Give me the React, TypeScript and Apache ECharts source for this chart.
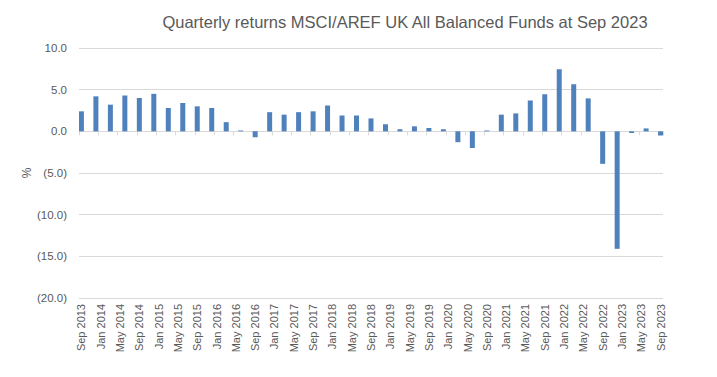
import React, { useEffect, useRef } from "react";
import * as echarts from "echarts";

const TITLE = "Quarterly returns MSCI/AREF UK All Balanced Funds at Sep 2023";
const AXIS_NAME = "%";
const MONTHS = ["Jan", "Feb", "Mar", "Apr", "May", "Jun", "Jul", "Aug", "Sep", "Oct", "Nov", "Dec"];
const START = { month: 8, year: 2013 }; // Sep 2013
const MONTH_COUNT = 121; // Sep 2013 .. Sep 2023

const quarters = [
  "Sep 2013", "Dec 2013", "Mar 2014", "Jun 2014", "Sep 2014", "Dec 2014",
  "Mar 2015", "Jun 2015", "Sep 2015", "Dec 2015", "Mar 2016", "Jun 2016",
  "Sep 2016", "Dec 2016", "Mar 2017", "Jun 2017", "Sep 2017", "Dec 2017",
  "Mar 2018", "Jun 2018", "Sep 2018", "Dec 2018", "Mar 2019", "Jun 2019",
  "Sep 2019", "Dec 2019", "Mar 2020", "Jun 2020", "Sep 2020", "Dec 2020",
  "Mar 2021", "Jun 2021", "Sep 2021", "Dec 2021", "Mar 2022", "Jun 2022",
  "Sep 2022", "Dec 2022", "Mar 2023", "Jun 2023", "Sep 2023",
];
const returns = [
  2.4, 4.2, 3.2, 4.3, 4.0, 4.5,
  2.8, 3.4, 3.0, 2.8, 1.1, 0.1,
  -0.7, 2.3, 2.0, 2.3, 2.4, 3.1,
  1.9, 1.9, 1.55, 0.85, 0.25, 0.6,
  0.4, 0.25, -1.3, -2.0, 0.1, 2.0,
  2.15, 3.7, 4.45, 7.45, 5.65, 3.95,
  -3.9, -14.1, -0.2, 0.35, -0.5,
];
const yTicks = { min: -20, max: 10, interval: 5 };

function buildMonths(): string[] {
  const out: string[] = [];
  let m = START.month;
  let y = START.year;
  for (let i = 0; i < MONTH_COUNT; i++) {
    out.push(`${MONTHS[m]} ${y}`);
    m++;
    if (m > 11) { m = 0; y++; }
  }
  return out;
}

export default function App() {
  const ref = useRef<HTMLDivElement>(null);
  useEffect(() => {
    if (!ref.current) return;
    const chart = echarts.init(ref.current, null, { renderer: "svg" });
    const months = buildMonths();
    const lookup: Record<string, number> = {};
    quarters.forEach((q, i) => (lookup[q] = returns[i]));
    const data = months.map((m) => (m in lookup ? lookup[m] : null));
    const font = "'Liberation Sans', Arial, sans-serif";
    const textColor = "#595959";
    chart.setOption({
      animation: false,
      textStyle: { fontFamily: font },
      graphic: [
        {
          type: "text",
          x: 405,
          y: 22,
          style: {
            text: TITLE,
            fill: textColor,
            font: `16.5px ${font}`,
            textAlign: "center",
            textVerticalAlign: "middle",
          },
        },
      ],
      grid: { left: 79, right: 54, top: 48, bottom: 79, containLabel: false },
      xAxis: [
        {
          type: "category",
          data: months,
          position: "bottom",
          axisLine: { onZero: true, lineStyle: { color: "#d9d9d9", width: 1 } },
          axisTick: { show: true, interval: 3, length: 4, lineStyle: { color: "#d9d9d9" } },
          axisLabel: { show: false },
          splitLine: { show: false },
        },
        {
          type: "category",
          data: months,
          position: "bottom",
          axisLine: { show: false, onZero: false },
          axisTick: { show: false },
          axisLabel: {
            show: true,
            interval: 3,
            rotate: 90,
            margin: 6,
            color: textColor,
            fontSize: 11,
            fontFamily: font,
          },
          splitLine: { show: false },
        },
      ],
      yAxis: {
        type: "value",
        min: yTicks.min,
        max: yTicks.max,
        interval: yTicks.interval,
        name: AXIS_NAME,
        nameLocation: "middle",
        nameGap: 46,
        nameRotate: 90,
        nameMoveOverlap: false,
        nameTextStyle: { color: textColor, fontSize: 12, fontFamily: font },
        axisLine: { show: false },
        axisTick: { show: false },
        axisLabel: {
          color: textColor,
          fontSize: 11.5,
          margin: 12,
          fontFamily: font,
          formatter: (v: number) => (v < 0 ? `(${Math.abs(v).toFixed(1)})` : v.toFixed(1)),
        },
        splitLine: { lineStyle: { color: "#d9d9d9", width: 1 } },
      },
      series: [
        {
          type: "bar",
          xAxisIndex: 0,
          data,
          barWidth: 5,
          itemStyle: { color: "#4f81bd" },
        },
      ],
    });
    return () => chart.dispose();
  }, []);
  return (
    <div
      ref={ref}
      style={{ position: "fixed", left: 0, top: 0, width: 717, height: 377, background: "#fff" }}
    />
  );
}
